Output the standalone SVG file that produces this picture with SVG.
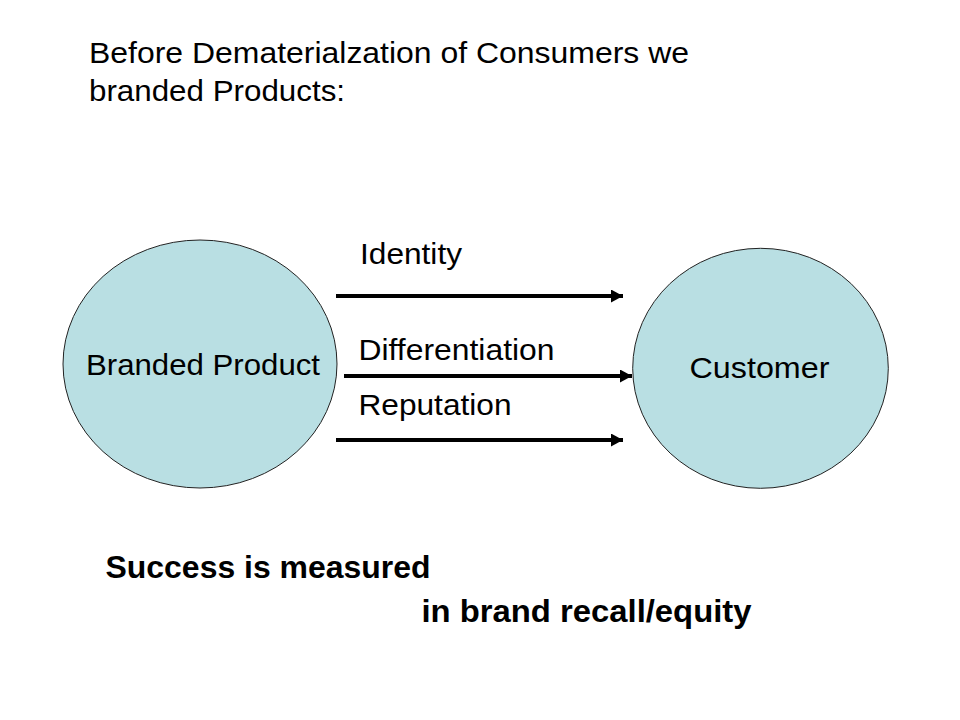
<svg xmlns="http://www.w3.org/2000/svg" width="960" height="720" viewBox="0 0 960 720">
<defs>
<marker id="ah" markerUnits="userSpaceOnUse" markerWidth="14" markerHeight="14" refX="12" refY="6.5" orient="auto">
<path d="M0,0 L12,6.5 L0,13 z" fill="#000"/>
</marker>
<style>
.t{font-family:"Liberation Sans",Arial,sans-serif;font-size:30px;fill:#000}
.b{font-family:"Liberation Sans",Arial,sans-serif;font-size:31px;font-weight:bold;fill:#000}
.node{fill:#b9dfe3;stroke:#222;stroke-width:1}
.conn{stroke:#000;stroke-width:4;fill:none;marker-end:url(#ah)}
</style>
</defs>
<rect width="960" height="720" fill="#fff"/>
<text class="t" x="89" y="63" textLength="600" lengthAdjust="spacingAndGlyphs">Before Dematerialzation of Consumers we</text>
<text class="t" x="89" y="100.5" textLength="256" lengthAdjust="spacingAndGlyphs">branded Products:</text>
<g id="branded-product">
<ellipse class="node" cx="200" cy="364" rx="137" ry="124"/>
<text class="t" x="86" y="375" textLength="234" lengthAdjust="spacingAndGlyphs">Branded Product</text>
</g>
<g id="customer">
<ellipse class="node" cx="760.5" cy="368.3" rx="127.8" ry="120"/>
<text class="t" x="689.5" y="378.3" textLength="140" lengthAdjust="spacingAndGlyphs">Customer</text>
</g>
<g id="connectors">
<line class="conn" x1="336" y1="296" x2="623" y2="296"/>
<line class="conn" x1="344" y1="376" x2="632" y2="376"/>
<line class="conn" x1="336" y1="440" x2="623" y2="440"/>
</g>
<g id="labels">
<text class="t" x="360" y="263.5" textLength="102" lengthAdjust="spacingAndGlyphs">Identity</text>
<text class="t" x="358.5" y="360" textLength="196" lengthAdjust="spacingAndGlyphs">Differentiation</text>
<text class="t" x="358.5" y="415" textLength="153" lengthAdjust="spacingAndGlyphs">Reputation</text>
</g>
<text class="b" x="105.5" y="578.3" textLength="325" lengthAdjust="spacingAndGlyphs">Success is measured</text>
<text class="b" x="421.5" y="621.7" textLength="330" lengthAdjust="spacingAndGlyphs">in brand recall/equity</text>
</svg>
